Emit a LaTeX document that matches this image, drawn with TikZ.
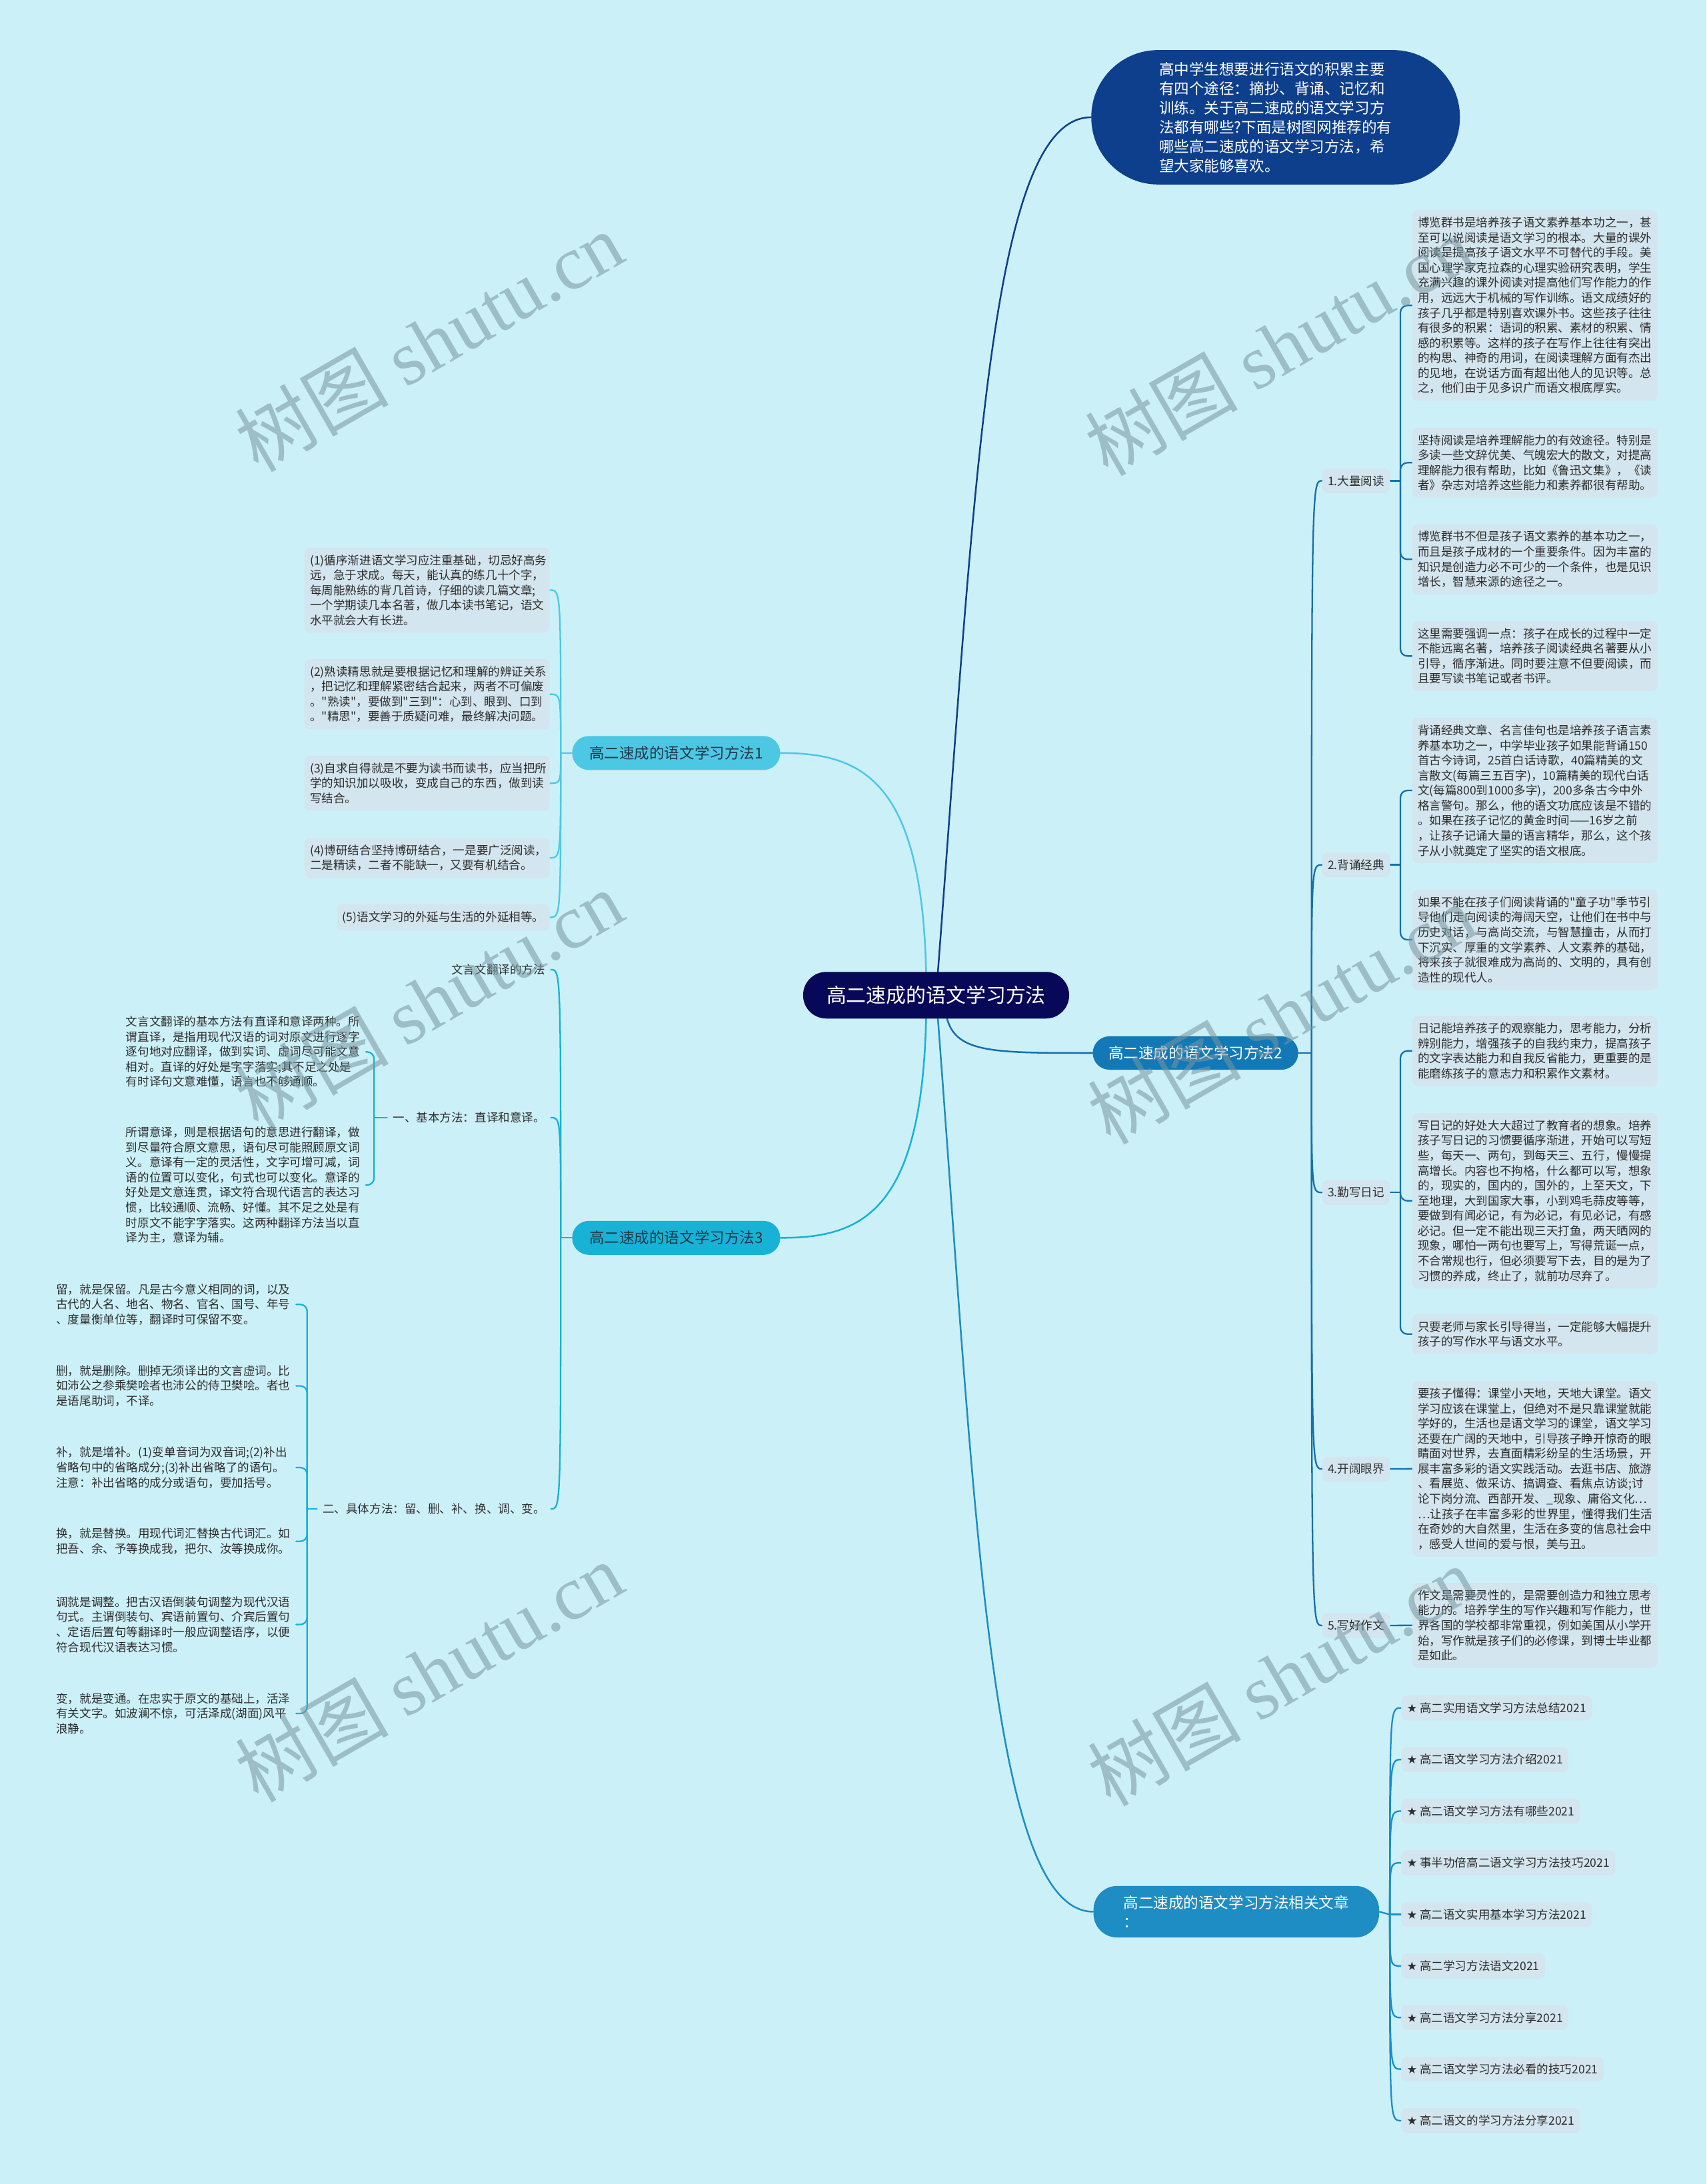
\documentclass[tikz,border=0pt]{standalone}
\usepackage{fontspec}
\setmainfont{Noto Sans CJK SC}
\newfontfamily\cjk{Noto Sans CJK SC}
\newfontfamily\symfont{DejaVu Sans}
\newfontfamily\wmlatin{Liberation Serif}
\usetikzlibrary{calc}
\definecolor{bgc}{RGB}{204,240,248}
\definecolor{boxc}{RGB}{211,229,238}
\definecolor{txtc}{RGB}{45,45,45}
\definecolor{rootc}{RGB}{8,8,88}
\definecolor{introc}{RGB}{14,63,140}
\definecolor{btwoc}{RGB}{19,121,182}
\definecolor{relc}{RGB}{29,141,195}
\definecolor{bonec}{RGB}{77,200,228}
\definecolor{bthreec}{RGB}{23,178,214}
\definecolor{ltwoc}{RGB}{22,112,170}
\definecolor{darktxt}{RGB}{30,55,70}
\definecolor{wmc}{RGB}{120,150,160}
\pgfdeclarelayer{bg}\pgfdeclarelayer{fg}\pgfsetlayers{bg,main,fg}
\begin{document}
\cjk
\begin{tikzpicture}[x=1pt,y=-1pt,
  box/.style={rectangle, rounded corners=4pt, fill=boxc, inner xsep=4pt, inner ysep=5pt, align=left, text=txtc, font=\cjk\fontsize{8.4}{10.8}\selectfont},
  dbox/.style={box, text width=168pt},
  plain/.style={rectangle, inner xsep=4pt, inner ysep=5pt, align=left, text=txtc, font=\cjk\fontsize{8.4}{10.8}\selectfont},
  ptext/.style={plain, text width=168pt},
  pill/.style={rectangle, align=center, font=\cjk\fontsize{10.8}{13.5}\selectfont},
  rootline/.style={line width=1.2pt, line cap=round},
  lvline/.style={line width=1.1pt, line cap=round},
  wm/.style={font=\cjk\fontsize{55}{55}\selectfont, text=wmc, opacity=0.55, rotate=30}
]
\useasboundingbox (0,0) rectangle (1225,1568);

% ---------- nodes ----------
\node[rectangle, fill=rootc, text=white, rounded corners=16.7pt, minimum width=191pt, minimum height=33.5pt, font=\cjk\fontsize{14.3}{17}\selectfont] (root) at (672,714.5) {高二速成的语文学习方法};

\node[rectangle, fill=introc, text=white, rounded corners=48pt, minimum width=264.6pt, minimum height=96.5pt, align=left, font=\cjk\fontsize{10.8}{13.9}\selectfont] (intro) at (915.7,84.2) {高中学生想要进行语文的积累主要\\有四个途径：摘抄、背诵、记忆和\\训练。关于高二速成的语文学习方\\法都有哪些?下面是树图网推荐的有\\哪些高二速成的语文学习方法，希\\望大家能够喜欢。};

\node[pill, fill=btwoc, text=white, rounded corners=12pt, minimum width=147.5pt, minimum height=24pt] (b2) at (858.2,756) {高二速成的语文学习方法2};
\node[pill, fill=bonec, text=darktxt, rounded corners=12pt, minimum width=149.3pt, minimum height=24.4pt] (b1) at (485.4,540.6) {高二速成的语文学习方法1};
\node[pill, fill=bthreec, text=darktxt, rounded corners=12pt, minimum width=149.3pt, minimum height=24.4pt] (b3) at (485.4,888.7) {高二速成的语文学习方法3};
\node[rectangle, fill=relc, text=white, rounded corners=17pt, minimum width=205pt, minimum height=37pt, align=left, font=\cjk\fontsize{10.8}{13.5}\selectfont] (rel) at (887.5,1372.5) {高二速成的语文学习方法相关文章\\：};

% branch 2 subs
\node[box, anchor=west] (s1) at (949,345.2) {1.大量阅读};
\node[box, anchor=west] (s2) at (949,620.9) {2.背诵经典};
\node[box, anchor=west] (s3) at (949,856.1) {3.勤写日记};
\node[box, anchor=west] (s4) at (949,1054.6) {4.开阔眼界};
\node[box, anchor=west] (s5) at (949,1167) {5.写好作文};

\node[dbox, anchor=west] (d1) at (1013.6,219.3) {博览群书是培养孩子语文素养基本功之一，甚\\至可以说阅读是语文学习的根本。大量的课外\\阅读是提高孩子语文水平不可替代的手段。美\\国心理学家克拉森的心理实验研究表明，学生\\充满兴趣的课外阅读对提高他们写作能力的作\\用，远远大于机械的写作训练。语文成绩好的\\孩子几乎都是特别喜欢课外书。这些孩子往往\\有很多的积累：语词的积累、素材的积累、情\\感的积累等。这样的孩子在写作上往往有突出\\的构思、神奇的用词，在阅读理解方面有杰出\\的见地，在说话方面有超出他人的见识等。总\\之，他们由于见多识广而语文根底厚实。};
\node[dbox, anchor=west] (d2) at (1013.6,332.2) {坚持阅读是培养理解能力的有效途径。特别是\\多读一些文辞优美、气魄宏大的散文，对提高\\理解能力很有帮助，比如《鲁迅文集》，《读\\者》杂志对培养这些能力和素养都很有帮助。};
\node[dbox, anchor=west] (d3) at (1013.6,401.6) {博览群书不但是孩子语文素养的基本功之一，\\而且是孩子成材的一个重要条件。因为丰富的\\知识是创造力必不可少的一个条件，也是见识\\增长，智慧来源的途径之一。};
\node[dbox, anchor=west] (d4) at (1013.6,471) {这里需要强调一点：孩子在成长的过程中一定\\不能远离名著，培养孩子阅读经典名著要从小\\引导，循序渐进。同时要注意不但要阅读，而\\且要写读书笔记或者书评。};
\node[dbox, anchor=west] (e1) at (1013.6,567.5) {背诵经典文章、名言佳句也是培养孩子语言素\\养基本功之一，中学毕业孩子如果能背诵150\\首古今诗词，25首白话诗歌，40篇精美的文\\言散文(每篇三五百字)，10篇精美的现代白话\\文(每篇800到1000多字)，200多条古今中外\\格言警句。那么，他的语文功底应该是不错的\\。如果在孩子记忆的黄金时间——16岁之前\\，让孩子记诵大量的语言精华，那么，这个孩\\子从小就奠定了坚实的语文根底。};
\node[dbox, anchor=west] (e2) at (1013.6,674.7) {如果不能在孩子们阅读背诵的"童子功"季节引\\导他们走向阅读的海阔天空，让他们在书中与\\历史对话，与高尚交流，与智慧撞击，从而打\\下沉实、厚重的文学素养、人文素养的基础，\\将来孩子就很难成为高尚的、文明的，具有创\\造性的现代人。};
\node[dbox, anchor=west] (f1) at (1013.6,754.5) {日记能培养孩子的观察能力，思考能力，分析\\辨别能力，增强孩子的自我约束力，提高孩子\\的文字表达能力和自我反省能力，更重要的是\\能磨练孩子的意志力和积累作文素材。};
\node[dbox, anchor=west] (f2) at (1013.6,862.1) {写日记的好处大大超过了教育者的想象。培养\\孩子写日记的习惯要循序渐进，开始可以写短\\些，每天一、两句，到每天三、五行，慢慢提\\高增长。内容也不拘格，什么都可以写，想象\\的，现实的，国内的，国外的，上至天文，下\\至地理，大到国家大事，小到鸡毛蒜皮等等，\\要做到有闻必记，有为必记，有见必记，有感\\必记。但一定不能出现三天打鱼，两天晒网的\\现象，哪怕一两句也要写上，写得荒诞一点，\\不合常规也行，但必须要写下去，目的是为了\\习惯的养成，终止了，就前功尽弃了。};
\node[dbox, anchor=west] (f3) at (1013.6,957.8) {只要老师与家长引导得当，一定能够大幅提升\\孩子的写作水平与语文水平。};
\node[dbox, anchor=west] (g1) at (1013.6,1054.5) {要孩子懂得：课堂小天地，天地大课堂。语文\\学习应该在课堂上，但绝对不是只靠课堂就能\\学好的，生活也是语文学习的课堂，语文学习\\还要在广阔的天地中，引导孩子睁开惊奇的眼\\睛面对世界，去直面精彩纷呈的生活场景，开\\展丰富多彩的语文实践活动。去逛书店、旅游\\、看展览、做采访、搞调查、看焦点访谈;讨\\论下岗分流、西部开发、\_现象、庸俗文化…\\…让孩子在丰富多彩的世界里，懂得我们生活\\在奇妙的大自然里，生活在多变的信息社会中\\，感受人世间的爱与恨，美与丑。};
\node[dbox, anchor=west] (h1) at (1013.6,1166.9) {作文是需要灵性的，是需要创造力和独立思考\\能力的。培养学生的写作兴趣和写作能力，世\\界各国的学校都非常重视，例如美国从小学开\\始，写作就是孩子们的必修课，到博士毕业都\\是如此。};

% related items
\node[box, anchor=west] (r1) at (1005.7,1226.2) {{\symfont ★} 高二实用语文学习方法总结2021};
\node[box, anchor=west] (r2) at (1005.7,1263.3) {{\symfont ★} 高二语文学习方法介绍2021};
\node[box, anchor=west] (r3) at (1005.7,1300.3) {{\symfont ★} 高二语文学习方法有哪些2021};
\node[box, anchor=west] (r4) at (1005.7,1337.4) {{\symfont ★} 事半功倍高二语文学习方法技巧2021};
\node[box, anchor=west] (r5) at (1005.7,1374.5) {{\symfont ★} 高二语文实用基本学习方法2021};
\node[box, anchor=west] (r6) at (1005.7,1411.5) {{\symfont ★} 高二学习方法语文2021};
\node[box, anchor=west] (r7) at (1005.7,1448.5) {{\symfont ★} 高二语文学习方法分享2021};
\node[box, anchor=west] (r8) at (1005.7,1485.5) {{\symfont ★} 高二语文学习方法必看的技巧2021};
\node[box, anchor=west] (r9) at (1005.7,1522.5) {{\symfont ★} 高二语文的学习方法分享2021};

% left branch 1 boxes
\node[dbox, anchor=east] (l1) at (394.8,423.7) {(1)循序渐进语文学习应注重基础，切忌好高务\\远，急于求成。每天，能认真的练几十个字，\\每周能熟练的背几首诗，仔细的读几篇文章;\\一个学期读几本名著，做几本读书笔记，语文\\水平就会大有长进。};
\node[dbox, anchor=east] (l2) at (394.8,498.4) {(2)熟读精思就是要根据记忆和理解的辨证关系\\，把记忆和理解紧密结合起来，两者不可偏废\\。"熟读"，要做到"三到"：心到、眼到、口到\\。"精思"，要善于质疑问难，最终解决问题。};
\node[dbox, anchor=east] (l3) at (394.8,562.3) {(3)自求自得就是不要为读书而读书，应当把所\\学的知识加以吸收，变成自己的东西，做到读\\写结合。};
\node[dbox, anchor=east] (l4) at (394.8,615.9) {(4)博研结合坚持博研结合，一是要广泛阅读，\\二是精读，二者不能缺一，又要有机结合。};
\node[box, anchor=east] (l5) at (394.8,658.6) {(5)语文学习的外延与生活的外延相等。};

% left branch 3
\node[plain, anchor=east] (t0) at (395.5,696.2) {文言文翻译的方法};
\node[plain, anchor=east] (t1) at (395.5,802.4) {一、基本方法：直译和意译。};
\node[plain, anchor=east] (t2) at (395.5,1083.3) {二、具体方法：留、删、补、换、调、变。};

\node[ptext, anchor=east] (m1) at (262.6,755.2) {文言文翻译的基本方法有直译和意译两种。所\\谓直译，是指用现代汉语的词对原文进行逐字\\逐句地对应翻译，做到实词、虚词尽可能文意\\相对。直译的好处是字字落实;其不足之处是\\有时译句文意难懂，语言也不够通顺。};
\node[ptext, anchor=east] (m2) at (262.6,850.8) {所谓意译，则是根据语句的意思进行翻译，做\\到尽量符合原文意思，语句尽可能照顾原文词\\义。意译有一定的灵活性，文字可增可减，词\\语的位置可以变化，句式也可以变化。意译的\\好处是文意连贯，译文符合现代语言的表达习\\惯，比较通顺、流畅、好懂。其不足之处是有\\时原文不能字字落实。这两种翻译方法当以直\\译为主，意译为辅。};

\node[ptext, anchor=east] (n1) at (212.6,936.5) {留，就是保留。凡是古今意义相同的词，以及\\古代的人名、地名、物名、官名、国号、年号\\、度量衡单位等，翻译时可保留不变。};
\node[ptext, anchor=east] (n2) at (212.6,995) {删，就是删除。删掉无须译出的文言虚词。比\\如沛公之参乘樊哙者也沛公的侍卫樊哙。者也\\是语尾助词，不译。};
\node[ptext, anchor=east] (n3) at (212.6,1053.6) {补，就是增补。(1)变单音词为双音词;(2)补出\\省略句中的省略成分;(3)补出省略了的语句。\\注意：补出省略的成分或语句，要加括号。};
\node[ptext, anchor=east] (n4) at (212.6,1106.6) {换，就是替换。用现代词汇替换古代词汇。如\\把吾、余、予等换成我，把尔、汝等换成你。};
\node[ptext, anchor=east] (n5) at (212.6,1166.3) {调就是调整。把古汉语倒装句调整为现代汉语\\句式。主谓倒装句、宾语前置句、介宾后置句\\、定语后置句等翻译时一般应调整语序，以便\\符合现代汉语表达习惯。};
\node[ptext, anchor=east] (n6) at (212.6,1230.2) {变，就是变通。在忠实于原文的基础上，活泽\\有关文字。如波澜不惊，可活泽成(湖面)风平\\浪静。};

% ---------- spine coordinates ----------
\coordinate (o2) at (941.5,756);
\coordinate (or) at (997.7,1374.5);
\coordinate (o1) at (402.5,540.6);
\coordinate (o3) at (402.5,888.7);
\coordinate (p1) at (1005.3,345.2);
\coordinate (p2) at (1005.3,620.9);
\coordinate (p3) at (1005.3,856.1);
\coordinate (pm) at (268.5,802.4);
\coordinate (pn) at (220.5,1083.3);

% ---------- connectors ----------
\begin{pgfonlayer}{bg}
\fill[bgc] (0,0) rectangle (1225,1568);
% root level
\draw[rootline, introc] (672,714.5) .. controls (700,350) and (710,84.2) .. (intro.west);
\draw[rootline, ltwoc] (678,714.5) .. controls (678,756) and (700,756) .. (b2.west);
\draw[rootline, relc] (672,714.5) .. controls (700,1080) and (710,1372.5) .. (rel.west);
\draw[rootline, bonec] (665,714.5) .. controls (665,560) and (620,540.6) .. (b1.east);
\draw[rootline, bthreec] (665,714.5) .. controls (665,870) and (620,888.7) .. (b3.east);
% branch 2
\draw[lvline, ltwoc] (b2.east) -- (o2);
\foreach \s in {s1,s2,s3,s4,s5}
  \draw[lvline, ltwoc] (o2) .. controls (o2 |- \s.west) .. (\s.west);
\draw[lvline, ltwoc] (s1.east) -- (p1);
\foreach \d in {d1,d2,d3,d4}
  \draw[lvline, ltwoc, rounded corners=5pt] (p1) |- (\d.west);
\draw[lvline, ltwoc] (s2.east) -- (p2);
\foreach \d in {e1,e2}
  \draw[lvline, ltwoc, rounded corners=5pt] (p2) |- (\d.west);
\draw[lvline, ltwoc] (s3.east) -- (p3);
\foreach \d in {f1,f2,f3}
  \draw[lvline, ltwoc, rounded corners=5pt] (p3) |- (\d.west);
\draw[lvline, ltwoc] (s4.east) -- (g1.west);
\draw[lvline, ltwoc] (s5.east) -- (h1.west);
% related
\draw[lvline, relc] (rel.east) -- (or);
\foreach \r in {r1,r2,r3,r4,r5,r6,r7,r8,r9}
  \draw[lvline, relc] (or) .. controls (or |- \r.west) .. (\r.west);
% branch 1
\draw[lvline, bonec] (b1.west) -- (o1);
\foreach \l in {l1,l2,l3,l4,l5}
  \draw[lvline, bonec] (o1) .. controls (o1 |- \l.east) .. (\l.east);
% branch 3
\draw[lvline, bthreec] (b3.west) -- (o3);
\foreach \t in {t0,t1,t2}
  \draw[lvline, bthreec] (o3) .. controls (o3 |- \t.east) .. (\t.east);
\draw[lvline, bthreec] (t1.west) -- (pm);
\foreach \m in {m1,m2}
  \draw[lvline, bthreec, rounded corners=5pt] (pm) |- (\m.east);
\draw[lvline, bthreec] (t2.west) -- (pn);
\foreach \n in {n1,n2,n3,n4,n5,n6}
  \draw[lvline, bthreec, rounded corners=5pt] (pn) |- (\n.east);
\end{pgfonlayer}

% ---------- watermarks ----------
\begin{pgfonlayer}{fg}
\node[wm] (w1) at (308,245) {树图 {\wmlatin shutu.cn}};
\node[wm] (w2) at (918,248) {树图 {\wmlatin shutu.cn}};
\node[wm] (w3) at (308,718) {树图 {\wmlatin shutu.cn}};
\node[wm] (w4) at (920,728) {树图 {\wmlatin shutu.cn}};
\node[wm] (w5) at (308,1200) {树图 {\wmlatin shutu.cn}};
\node[wm] (w6) at (920,1203) {树图 {\wmlatin shutu.cn}};
\end{pgfonlayer}
\end{tikzpicture}
\end{document}
